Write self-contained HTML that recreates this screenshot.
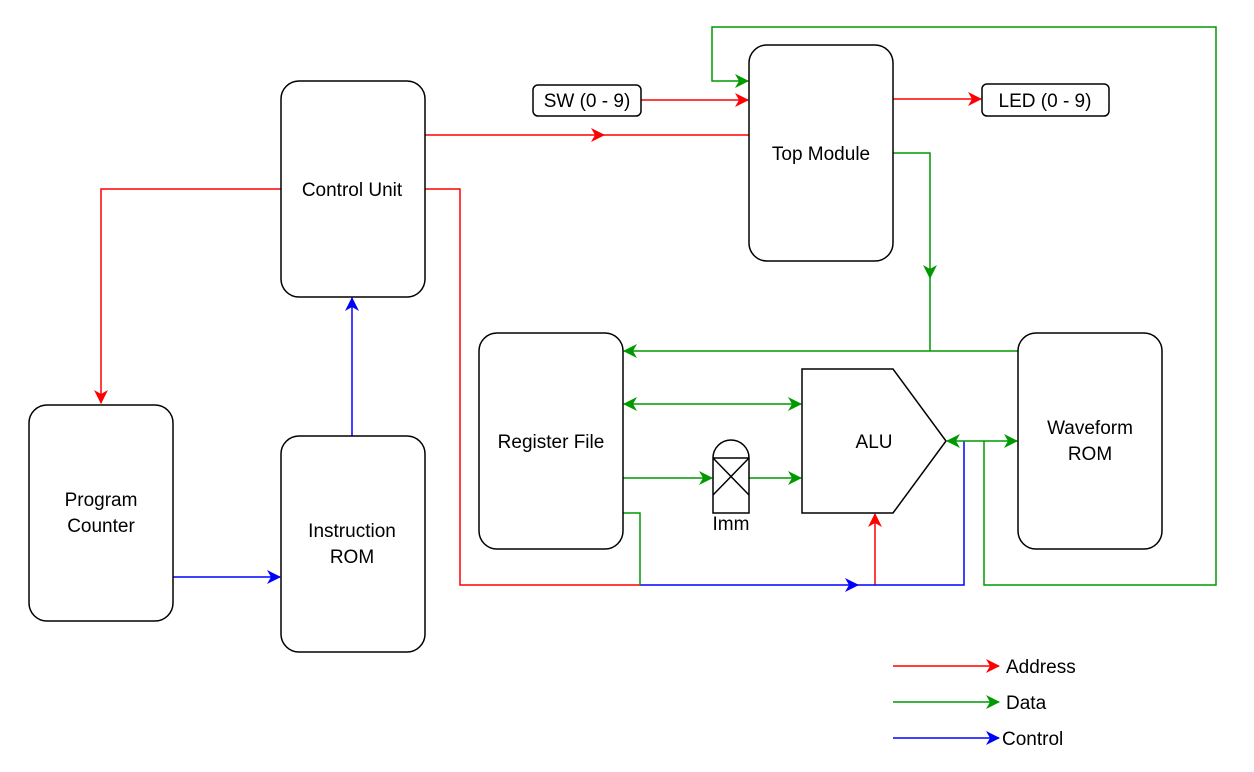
<!DOCTYPE html>
<html><head><meta charset="utf-8"><style>html,body{margin:0;padding:0;background:#fff}svg{display:block}text{font-family:"Liberation Sans",sans-serif;font-size:19px;fill:#000}</style></head><body>
<svg width="1254" height="772" viewBox="0 0 1254 772" xmlns="http://www.w3.org/2000/svg">
<defs>
<marker id="ar" markerWidth="14" markerHeight="14" refX="13" refY="7" orient="auto" markerUnits="userSpaceOnUse" viewBox="0 0 14 14"><path d="M0,0 L14,7 L0,14 L4,7 Z" fill="#f00"/></marker>
<marker id="ag" markerWidth="14" markerHeight="14" refX="13" refY="7" orient="auto" markerUnits="userSpaceOnUse" viewBox="0 0 14 14"><path d="M0,0 L14,7 L0,14 L4,7 Z" fill="#090"/></marker>
<marker id="ags" markerWidth="14" markerHeight="14" refX="1" refY="7" orient="auto" markerUnits="userSpaceOnUse" viewBox="0 0 14 14"><path d="M14,0 L0,7 L14,14 L10,7 Z" fill="#090"/></marker>
<marker id="ab" markerWidth="14" markerHeight="14" refX="13" refY="7" orient="auto" markerUnits="userSpaceOnUse" viewBox="0 0 14 14"><path d="M0,0 L14,7 L0,14 L4,7 Z" fill="#00f"/></marker>
</defs>
<g fill="none" stroke-width="1.5">
<path d="M425,135 H604" stroke="#f00" marker-end="url(#ar)"/><path d="M598,135 H749" stroke="#f00"/>
<path d="M281,189 H101 V403" stroke="#f00" marker-end="url(#ar)"/>
<path d="M425,189 H460 V585 H640" stroke="#f00"/>
<path d="M641,100 H748" stroke="#f00" marker-end="url(#ar)"/>
<path d="M893,99 H981" stroke="#f00" marker-end="url(#ar)"/>
<path d="M875,585 V514" stroke="#f00" marker-end="url(#ar)"/>
<path d="M640,585 H858" stroke="#00f" marker-end="url(#ab)"/><path d="M853,585 H964 V441" stroke="#00f"/>
<path d="M173,577 H280" stroke="#00f" marker-end="url(#ab)"/>
<path d="M352,436 V298" stroke="#00f" marker-end="url(#ab)"/>
<path d="M893,666 H999" stroke="#f00" marker-end="url(#ar)"/>
<path d="M893,702 H999" stroke="#090" marker-end="url(#ag)"/>
<path d="M893,738 H999" stroke="#00f" marker-end="url(#ab)"/>
<path d="M623,513 H640 V585" stroke="#090"/>
<path d="M893,153 H930 V278" stroke="#090" marker-end="url(#ag)"/>
<path d="M930,276 V351" stroke="#090"/>
<path d="M1018,351 H624" stroke="#090" marker-end="url(#ag)"/>
<path d="M624,404 H801" stroke="#090" marker-start="url(#ags)" marker-end="url(#ag)"/>
<path d="M623,478 H712" stroke="#090" marker-end="url(#ag)"/>
<path d="M749,478 H801" stroke="#090" marker-end="url(#ag)"/>
<path d="M947,441 H1017" stroke="#090" marker-start="url(#ags)" marker-end="url(#ag)"/>
<path d="M984,441 V585 H1216 V27 H712 V81 H748" stroke="#090" marker-end="url(#ag)"/>
</g>
<g fill="#fff" stroke="#000" stroke-width="1.5">
<rect x="281" y="81" width="144" height="216" rx="18"/>
<rect x="749" y="45" width="144" height="216" rx="18"/>
<rect x="533" y="85" width="108" height="31" rx="5"/>
<rect x="982" y="84" width="127" height="32" rx="5"/>
<rect x="479" y="333" width="144" height="216" rx="18"/>
<rect x="1018" y="333" width="144" height="216" rx="18"/>
<rect x="29" y="405" width="144" height="216" rx="18"/>
<rect x="281" y="436" width="144" height="216" rx="18"/>
<path d="M802,369 H893 L946,441 L893,513 H802 Z"/>
<path d="M713,513 V458 A18,18 0 0 1 749,458 V513 Z"/>
<path d="M713,458 H749 M713,458 L749,495 M749,458 L713,495" fill="none"/>
</g>
<g text-anchor="middle">
<text x="352" y="196">Control Unit</text>
<text x="821" y="160">Top Module</text>
<text x="587" y="107">SW (0 - 9)</text>
<text x="1045" y="107">LED (0 - 9)</text>
<text x="551" y="448">Register File</text>
<text x="1090" y="434">Waveform</text>
<text x="1090" y="460">ROM</text>
<text x="101" y="506">Program</text>
<text x="101" y="532">Counter</text>
<text x="352" y="537">Instruction</text>
<text x="352" y="563">ROM</text>
<text x="874" y="448">ALU</text>
<text x="731" y="530">Imm</text>
</g>
<text x="1006" y="673">Address</text>
<text x="1006" y="709">Data</text>
<text x="1002" y="745">Control</text>
</svg>
</body></html>
